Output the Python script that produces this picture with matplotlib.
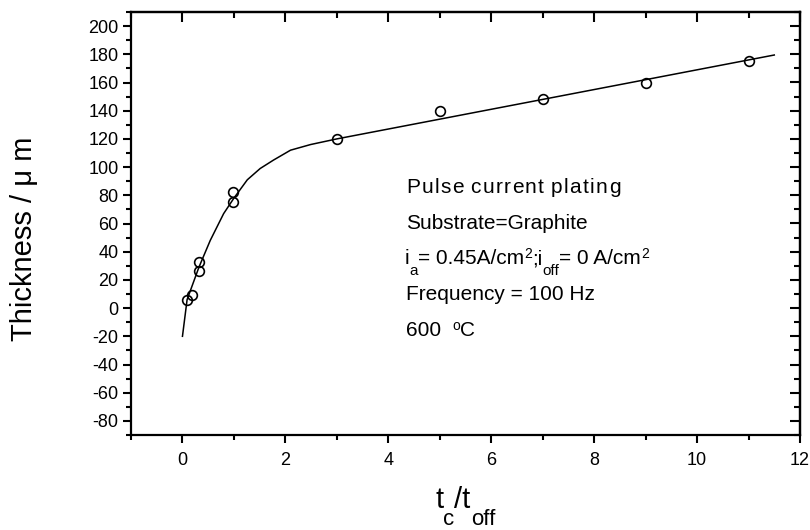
import numpy as np
import matplotlib
matplotlib.use("Agg")
import matplotlib.pyplot as plt
from matplotlib.ticker import MultipleLocator

plt.rcParams['font.family'] = ['Liberation Sans', 'DejaVu Sans']
plt.rcParams['axes.unicode_minus'] = False

W, H = 810, 530

# measured thickness vs. duty ratio
ratio = [0.08, 0.19, 0.32, 0.32, 0.98, 0.98, 3.0, 5.0, 7.0, 9.0, 11.0]
thick = [6, 9, 33, 26, 82, 75, 120, 140, 148, 160, 175]

# fitted curve
fit_x = [0.0, 0.09, 0.32, 0.54, 0.80, 1.0, 1.26, 1.51, 1.77, 2.10, 2.49, 3.0,
         4.0, 5.0, 6.0, 7.0, 8.0, 9.0, 10.0, 11.0, 11.5]
fit_y = [-20, 6, 29, 48, 67, 78, 91, 99, 105, 112, 116, 120,
         127, 134, 141, 148, 155, 162, 169, 176, 179.5]

notes = ['Pulse current plating',
         'Substrate=Graphite',
         None,
         'Frequency = 100 Hz',
         None]

fig = plt.figure(figsize=(W / 100, H / 100), dpi=100)
ax = fig.add_axes([131 / W, 1 - 435 / H, 669 / W, 423 / H])

ax.plot(fit_x, fit_y, '-k', lw=1.1)
ax.plot(ratio, thick, 'o', mfc='none', mec='k', ms=7, mew=1.2)

ax.set_xlim(-1, 12)
ax.set_ylim(-90, 210)
ax.xaxis.set_major_locator(MultipleLocator(2))
ax.xaxis.set_minor_locator(MultipleLocator(1))
ax.yaxis.set_minor_locator(MultipleLocator(10))
ax.set_yticks(np.arange(-80, 201, 20))

for s in ax.spines.values():
    s.set_linewidth(1.6)
ax.tick_params(which='both', direction='out', top=False, right=False,
               labelsize=13, width=1.5)
ax.tick_params(axis='x', which='major', length=6, pad=6)
ax.tick_params(axis='y', which='major', length=6, pad=3)
ax.tick_params(which='minor', length=3.5)

# inward ticks on the top and right edges
axt = ax.secondary_xaxis('top')
axt.xaxis.set_major_locator(MultipleLocator(2))
axt.xaxis.set_minor_locator(MultipleLocator(1))
axt.tick_params(which='both', direction='in', labeltop=False, width=1.5)
axt.tick_params(which='major', length=7)
axt.tick_params(which='minor', length=4)
axr = ax.secondary_yaxis('right')
axr.yaxis.set_major_locator(MultipleLocator(20))
axr.yaxis.set_minor_locator(MultipleLocator(10))
axr.tick_params(which='both', direction='in', labelright=False, width=1.5)
axr.tick_params(which='major', length=7)
axr.tick_params(which='minor', length=4)
axt.spines['top'].set_linewidth(1.6)
axr.spines['right'].set_linewidth(1.6)

renderer = fig.canvas.get_renderer()


def put(x, y, s, size):
    # x, y in pixels from the top-left corner, y is the baseline
    return fig.text(x / W, 1 - y / H, s, fontsize=size, ha='left',
                    va='baseline')


def chain(x, y, parts):
    # parts: (text, size, dy); subscripts hang below the baseline
    for s, size, dy in parts:
        t = put(x, y + dy, s, size)
        x = t.get_window_extent(renderer).x1
    return x


def tracked(x, y, s, size, track, space):
    # one word at a time, letters spread a little apart
    for w in s.split(' '):
        for ch in w:
            t = put(x, y, ch, size)
            x = t.get_window_extent(renderer).x1 + track
        x += space
    return x


base = 193
step = 35.7
for i, t in enumerate(notes):
    if t and i == 0:
        tracked(406, base, t, 15, 1.4, 5)
    elif t:
        put(406, base + i * step, t, 15)

y3 = base + 2 * step
chain(405, y3, [('i', 15, 0), ('a', 11, 11),
                ('= 0.45A/cm', 15, 0), ('2', 10, -6),
                (';i', 15, 0), ('off', 11, 11),
                ('= 0 A/cm', 15, 0), ('2', 10, -6)])
chain(406, base + 4 * step, [('600  ', 15, 0), ('o', 10, -6), ('C', 15, 0)])

fig.text(24 / W, 1 - 239 / H, 'Thickness / \u03bc m', rotation=90,
         fontsize=21, ha='center', va='center')

# x label with deep subscripts
chain(435, 508, [('t', 21, 0), ('c', 16, 17), ('/t', 21, 0), ('off', 16, 17)])

fig.savefig('out.png', dpi=100)
